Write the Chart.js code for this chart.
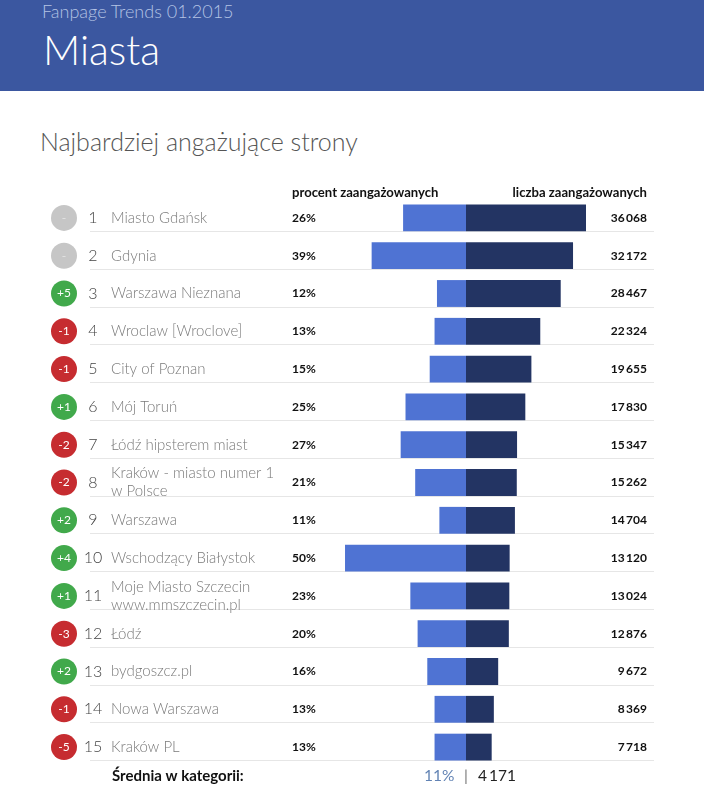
<!DOCTYPE html>
<html lang="pl"><head><meta charset="utf-8">
<script src="https://cdn.jsdelivr.net/npm/chart.js@4"></script>
<style>
html,body{margin:0;padding:0;background:#fff;width:704px;height:789px;overflow:hidden}
#wrap{position:relative;width:704px;height:789px;font-family:Lato,sans-serif}
#band{position:absolute;left:0;top:0;width:704px;height:91px;background:#3b57a0}
.t{position:absolute;white-space:nowrap;font-weight:300;line-height:1}
#c{position:absolute;left:0;top:0}
</style></head><body>
<div id="wrap">
<div id="band"></div>
<div class="t" style="left:42px;top:2px;font-size:18px;color:#b4c3e4">Fanpage Trends 01.2015</div>
<div class="t" style="left:43px;top:29px;font-size:41px;color:#fff">Miasta</div>
<div class="t" style="left:40px;top:129px;font-size:25px;color:#555">Najbardziej angażujące strony</div>
<canvas id="c" width="704" height="789"></canvas>
</div>
<script>
const names=[["Miasto Gdańsk"],["Gdynia"],["Warszawa Nieznana"],["Wroclaw [Wroclove]"],["City of Poznan"],["Mój Toruń"],["Łódź hipsterem miast"],["Kraków - miasto numer 1","w Polsce"],["Warszawa"],["Wschodzący Białystok"],["Moje Miasto Szczecin","www.mmszczecin.pl"],["Łódź"],["bydgoszcz.pl"],["Nowa Warszawa"],["Kraków PL"]];
const changes=["-","-","+5","-1","-1","+1","-2","-2","+2","+4","+1","-3","+2","-1","-5"];
const percentValues=[26,39,12,13,15,25,27,21,11,50,23,20,16,13,13];
const countValues=[36068,32172,28467,22324,19655,17830,15347,15262,14704,13120,13024,12876,9672,8369,7718];
const headerLabels=["procent zaangażowanych","liczba zaangażowanych"];
const averageLabel="Średnia w kategorii:";
const averagePercent="11%";
const averageCount="4 171";

const fmt=n=>String(n).replace(/\B(?=(\d{3})+$)/g,"\u2009");
const badgeColor=s=>s==="-"?"#c6c6c6":s[0]==="+"?"#41a94b":"#c62c30";

const rowsPlugin={
  id:"rows",
  beforeDatasetsDraw(chart){
    const {ctx,scales:{y}}=chart;
    ctx.save();
    ctx.strokeStyle="#e6e6e6";ctx.lineWidth=1;
    names.forEach((_,i)=>{
      const yy=Math.round(y.getPixelForValue(i)+13)+0.5;
      ctx.beginPath();ctx.moveTo(90,yy);ctx.lineTo(654,yy);ctx.stroke();
    });
    ctx.restore();
  },
  afterDatasetsDraw(chart){
    const {ctx,scales:{y}}=chart;
    ctx.save();
    ctx.textBaseline="middle";
    ctx.textAlign="left";ctx.fillStyle="#111";ctx.font="bold 13.1px Lato";
    ctx.fillText(headerLabels[0],292,193);
    ctx.textAlign="right";ctx.fillText(headerLabels[1],647,193);
    names.forEach((lines,i)=>{
      const c=y.getPixelForValue(i);
      ctx.beginPath();ctx.arc(64,c,13,0,Math.PI*2);ctx.fillStyle=badgeColor(changes[i]);ctx.fill();
      ctx.textAlign="center";ctx.font="12px Lato";
      ctx.fillStyle=changes[i]==="-"?"#e4e4e4":"#fff";
      ctx.fillText(changes[i],64,c);
      ctx.font="300 16px Lato";ctx.fillStyle="#444";
      ctx.fillText(String(i+1),93,c);
      ctx.textAlign="left";ctx.font="300 15px Lato";ctx.fillStyle="#7a7a7a";
      lines.forEach((l,k)=>ctx.fillText(l,111,c+(k-(lines.length-1)/2)*18));
      ctx.font="bold 12px Lato";ctx.fillStyle="#111";
      ctx.fillText(percentValues[i]+"%",292,c);
      ctx.textAlign="right";
      ctx.fillText(fmt(countValues[i]),647,c);
    });
    ctx.textAlign="left";ctx.font="bold 15px Lato";ctx.fillStyle="#111";
    ctx.fillText(averageLabel,112,776);
    ctx.font="15.5px Lato";
    ctx.fillStyle="#6283b4";ctx.fillText(averagePercent,424,776);
    ctx.fillStyle="#777";ctx.fillText("|",464,776);
    ctx.fillStyle="#222";ctx.fillText(averageCount.replace(" ","\u2009"),478,776);
    ctx.restore();
  }
};

new Chart(document.getElementById("c"),{
  type:"bar",
  data:{
    labels:names.map(n=>n.join(" ")),
    datasets:[
      {label:headerLabels[0],data:percentValues,xAxisID:"xp",backgroundColor:"#4f73d3",grouped:false,barPercentage:0.71,categoryPercentage:1},
      {label:headerLabels[1],data:countValues,xAxisID:"xc",backgroundColor:"#233463",grouped:false,barPercentage:0.71,categoryPercentage:1}
    ]
  },
  options:{
    indexAxis:"y",responsive:false,animation:false,
    layout:{padding:{left:90,right:50,top:199,bottom:23}},
    plugins:{legend:{display:false},tooltip:{enabled:false},title:{display:false}},
    scales:{
      y:{type:"category",display:false,offset:true,grid:{display:false}},
      xp:{type:"linear",display:false,reverse:true,min:-77.7,max:155.4,grid:{display:false}},
      xc:{type:"linear",display:false,min:-113015,max:56507,grid:{display:false}}
    }
  },
  plugins:[rowsPlugin]
});
</script>
</body></html>
